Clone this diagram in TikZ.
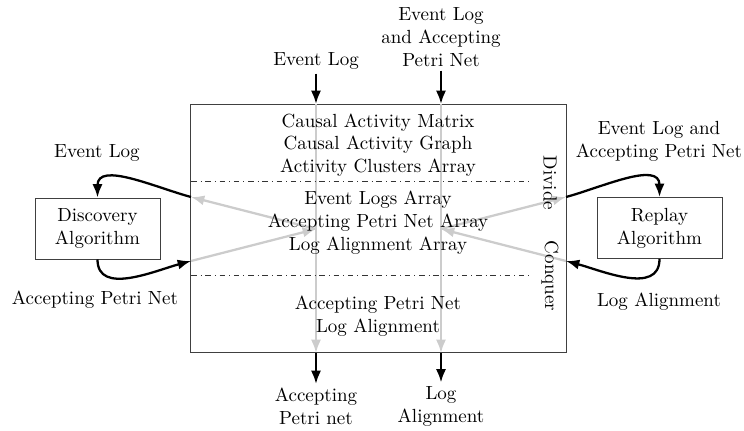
\documentclass[tikz,border=0pt]{standalone}
\usetikzlibrary{arrows.meta}
\definecolor{flowgray}{gray}{0.8}
\begin{document}
\begin{tikzpicture}[x=0.5263pt, y=0.5263pt,
  flow/.style={line width=1.2pt, -{Latex[length=7pt,width=5.3pt]}},
  innerflow/.style={flow, draw=flowgray, color=flowgray},
  lbl/.style={align=center, inner sep=2pt},
  algo/.style={draw=black!75, line width=0.5pt, minimum width=65.8pt,
    minimum height=32.1pt, align=center, inner sep=0pt},
  sepline/.style={draw=black!80, line width=0.5pt, dash dot}]
\useasboundingbox (0,0) rectangle (744,-431);

% central frame
\node[draw=black!75, line width=0.5pt, minimum width=197.4pt,
  minimum height=131pt, inner sep=0pt] (frame) at (378.5,-228.5) {};

% ports on the frame and hubs inside it
\coordinate (inA) at (316,-104);
\coordinate (outA) at (316,-353);
\coordinate (inB) at (441,-104);
\coordinate (outB) at (441,-353);
\coordinate (hubA) at (316,-229);
\coordinate (hubB) at (441,-229);
\coordinate (portLT) at (191,-197);
\coordinate (portLB) at (191,-261);
\coordinate (portRT) at (566,-197);
\coordinate (portRB) at (566,-261);
\coordinate (sepAl) at (191,-181);
\coordinate (sepAr) at (533,-181);
\coordinate (sepBl) at (191,-275);
\coordinate (sepBr) at (533,-275);

% internal data flow
\draw[innerflow] (inA) -- (outA);
\draw[innerflow] (inB) -- (outB);
\draw[innerflow] (hubA) -- (portLT);
\draw[innerflow] (portLB) -- (hubA);
\draw[innerflow] (hubB) -- (portRT);
\draw[innerflow] (portRB) -- (hubB);

% stage separators
\draw[sepline] (sepAl) -- (sepAr);
\draw[sepline] (sepBl) -- (sepBr);

% stage contents
\node[lbl] (stage1) at (378,-145) {Causal Activity Matrix\\Causal Activity Graph\\Activity Clusters Array};
\node[lbl] (stage2) at (378,-222.5) {Event Logs Array\\Accepting Petri Net Array\\Log Alignment Array};
\node[lbl] (stage3) at (378,-316.5) {Accepting Petri Net\\Log Alignment};
\node[lbl, rotate=-90] (divide) at (550,-183) {Divide};
\node[lbl, rotate=-90] (conquer) at (550,-276) {Conquer};

% inputs
\node[lbl] (topA) at (316,-61) {Event Log};
\node[lbl] (topB) at (441,-37) {Event Log\\and Accepting\\Petri Net};
\draw[flow] (topA.south) -- (inA);
\draw[flow] (topB.south) -- (inB);

% outputs
\node[lbl] (botA) at (316,-406.5) {Accepting\\Petri net};
\node[lbl] (botB) at (441,-406.5) {Log\\Alignment};
\draw[flow] (outA) -- (botA.north);
\draw[flow] (outB) -- (botB.north);

% discovery side
\node[algo] (disc) at (97.5,-228.5) {Discovery\\Algorithm};
\node[lbl] (discIn) at (97,-153) {Event Log};
\node[lbl] (discOut) at (95,-300) {Accepting Petri Net};
\draw[flow] (portLT) to[out=165,in=90] (disc.north);
\draw[flow] (disc.south) to[out=-90,in=195] (portLB);

% replay side
\node[algo] (replay) at (659.5,-228) {Replay\\Algorithm};
\node[lbl] (replayIn) at (659,-141.5) {Event Log and\\Accepting Petri Net};
\node[lbl] (replayOut) at (659,-302) {Log Alignment};
\draw[flow] (portRT) to[out=15,in=90] (replay.north);
\draw[flow] (replay.south) to[out=-90,in=-15] (portRB);
\end{tikzpicture}
\end{document}
